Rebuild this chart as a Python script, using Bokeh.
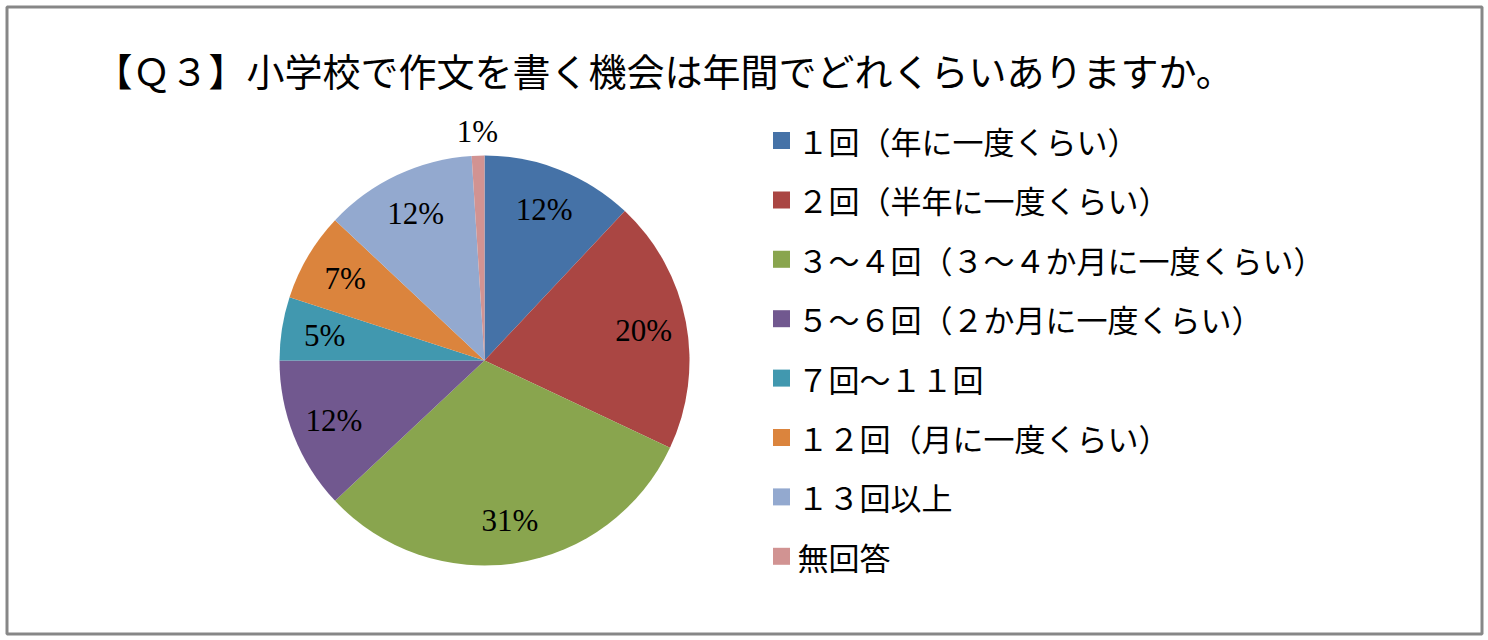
import math
from bokeh.plotting import figure
from bokeh.models import Range1d, ColumnDataSource
from bokeh.core.properties import value
from bokeh.embed import file_html
from bokeh.resources import INLINE

title_text = "【Ｑ３】小学校で作文を書く機会は年間でどれくらいありますか。"
categories = [
    "１回（年に一度くらい）",
    "２回（半年に一度くらい）",
    "３～４回（３～４か月に一度くらい）",
    "５～６回（２か月に一度くらい）",
    "７回～１１回",
    "１２回（月に一度くらい）",
    "１３回以上",
    "無回答",
]
percents = [12, 20, 31, 12, 5, 7, 12, 1]
colors = ["#4572A7", "#AA4643", "#89A54E", "#71588F",
          "#4198AF", "#DB843D", "#93A9CF", "#D19392"]

W, H = 1488, 640
p = figure(width=W, height=H, output_backend="svg", toolbar_location=None,
           x_range=Range1d(0, W), y_range=Range1d(0, H), min_border=0)
p.axis.visible = False
p.grid.visible = False
p.outline_line_color = None
p.background_fill_color = "white"

# frame
p.quad(left=[6.5], right=[1481.5], top=[H - 6.5], bottom=[H - 633.5],
       fill_color=None, line_color="#878787", line_width=3)

# title
p.text(x=[94], y=[H - 69], text=[title_text], text_font=value("Noto Sans CJK JP"),
       text_font_size="38px", text_baseline="middle", text_align="left", text_color="black")

# pie
cx, cy, R = 484, H - 360, 205
total = sum(percents)
starts, ends, lx, ly, labels = [], [], [], [], []
cum = 0
for v in percents:
    a0 = math.pi / 2 - 2 * math.pi * cum / total
    cum += v
    a1 = math.pi / 2 - 2 * math.pi * cum / total
    starts.append(a0)
    ends.append(a1)
    mid = (a0 + a1) / 2
    rf = 0.79 if v >= 3 else 1.12
    lx.append(cx + rf * R * math.cos(mid))
    ly.append(cy + rf * R * math.sin(mid))
    labels.append(f"{v}%")

src = ColumnDataSource(dict(start=starts, end=ends, color=colors))
p.wedge(x=cx, y=cy, radius=R, start_angle="start", end_angle="end",
        direction="clock", fill_color="color", line_color=None, source=src)

p.text(x=lx, y=ly, text=labels, text_font=value("Liberation Serif"),
       text_font_size="31px", text_align="center", text_baseline="middle", text_color="black")

# legend
ly0, step = H - 140, 59.4
leg_y = [ly0 - i * step for i in range(len(categories))]
p.rect(x=[781] * len(categories), y=leg_y, width=17, height=17,
       fill_color=colors, line_color=None)
p.text(x=[797] * len(categories), y=leg_y, text=categories,
       text_font=value("Noto Sans CJK JP"), text_font_size="31px",
       text_baseline="middle", text_align="left", text_color="black")

open("out.html", "w").write(file_html(p, INLINE))
